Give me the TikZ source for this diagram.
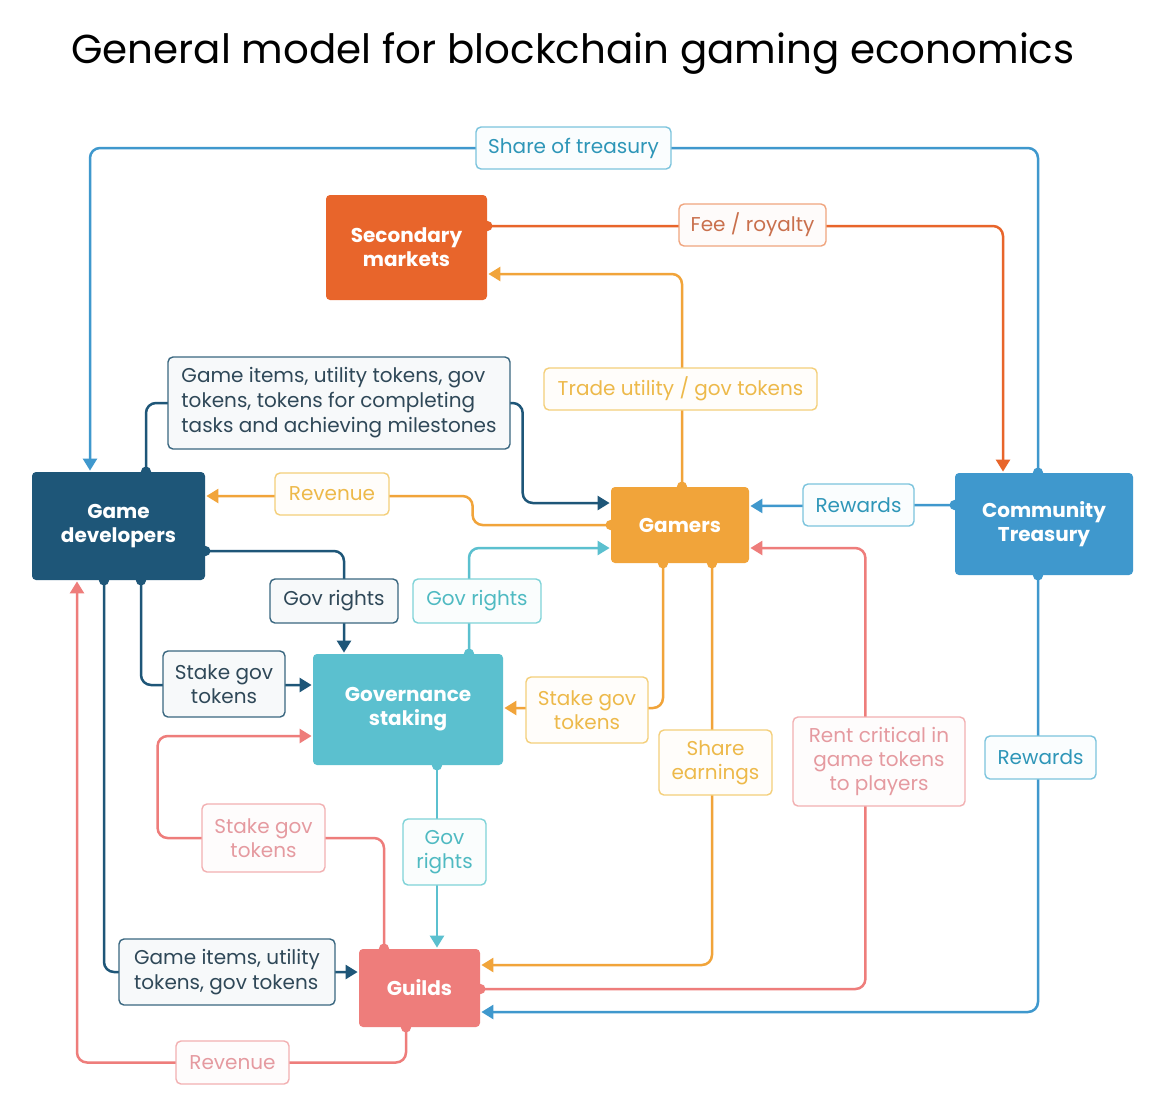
\documentclass[tikz,border=0pt]{standalone}
\usepackage{fontspec}
\setmainfont{Poppins}
\usetikzlibrary{arrows.meta,calc}
\pgfdeclarelayer{bg}\pgfdeclarelayer{lines}
\pgfsetlayers{bg,lines,main}
\definecolor{cDark}{HTML}{1E5678}
\definecolor{cOrange}{HTML}{F1A43A}
\definecolor{cBlue}{HTML}{3F98CD}
\definecolor{cTeal}{HTML}{5BC0CF}
\definecolor{cSalmon}{HTML}{EE7D7B}
\definecolor{cRed}{HTML}{E8652B}
\definecolor{tDark}{HTML}{2F4858}
\definecolor{bDark}{HTML}{3A6780}
\definecolor{tBlue}{HTML}{2E96B8}
\definecolor{bBlue}{HTML}{7CC4DD}
\definecolor{tTeal}{HTML}{4FBAC2}
\definecolor{bTeal}{HTML}{7FD3D8}
\definecolor{tYel}{HTML}{EDB94A}
\definecolor{bYel}{HTML}{F4CF7A}
\definecolor{tPink}{HTML}{E59AA0}
\definecolor{bPink}{HTML}{F2B0B2}
\definecolor{tFee}{HTML}{C9704D}
\definecolor{bFee}{HTML}{F0A57F}
\tikzset{
  box/.style={rectangle, rounded corners=2pt, text=white, align=center, inner sep=0pt,
    font=\bfseries\fontsize{10}{12}\selectfont},
  lab/.style n args={2}{rectangle, rounded corners=2.5pt, line width=0.7pt, draw=#1, text=#2,
    fill=#1!4!white, align=center, inner sep=0pt, font=\fontsize{10}{12.2}\selectfont},
  conn/.style={line width=1.25pt, rounded corners=5pt, shorten <=-2.5pt, shorten >=0.5pt,
    {Circle[length=5pt]}-{Triangle[length=6pt,width=7pt]}}
}
\begin{document}
\begin{tikzpicture}[x=0.5pt,y=-0.5pt]
\begin{pgfonlayer}{bg}
\fill[white] (0,0) rectangle (1173,1110);
\end{pgfonlayer}
\useasboundingbox (0,0) rectangle (1173,1110);
\node (title) at (573,54) {\fontsize{20.2}{24}\selectfont General model for blockchain gaming economics};
% main nodes
\node[box, fill=cRed, minimum width=80.5pt, minimum height=52.5pt] (sec) at (406.5,247.5) {Secondary\\markets};
\node[box, fill=cDark, minimum width=86.5pt, minimum height=54pt] (dev) at (118.5,526) {Game\\developers};
\node[box, fill=cOrange, minimum width=69pt, minimum height=38pt] (gam) at (680,525) {Gamers};
\node[box, fill=cBlue, minimum width=89pt, minimum height=51pt] (tre) at (1044,524) {Community\\Treasury};
\node[box, fill=cTeal, minimum width=95pt, minimum height=55.5pt] (gov) at (408,709.5) {Governance\\staking};
\node[box, fill=cSalmon, minimum width=60.5pt, minimum height=39pt] (gui) at (419.5,988) {Guilds};
% labels
\node[lab={bBlue}{tBlue}, minimum width=97.5pt, minimum height=21pt] (L1) at (573.5,148) {Share of treasury};
\node[lab={bFee}{tFee}, minimum width=73.5pt, minimum height=21pt] (L2) at (752.5,225) {Fee / royalty};
\node[lab={bDark}{tDark}, minimum width=171pt, minimum height=46pt, align=left, font=\fontsize{10}{12.5}\selectfont] (L3) at (339,403) {Game items, utility tokens, gov\\tokens, tokens for completing\\tasks and achieving milestones};
\node[lab={bYel}{tYel}, minimum width=136.5pt, minimum height=21pt] (L4) at (680.5,389) {Trade utility / gov tokens};
\node[lab={bYel}{tYel}, minimum width=57pt, minimum height=21pt] (L5) at (332,494) {Revenue};
\node[lab={bBlue}{tBlue}, minimum width=55.5pt, minimum height=21pt] (L6) at (858.5,505) {Rewards};
\node[lab={bDark}{tDark}, minimum width=64pt, minimum height=22pt] (L7) at (334,601) {Gov rights};
\node[lab={bTeal}{tTeal}, minimum width=64pt, minimum height=22pt] (L8) at (477,601) {Gov rights};
\node[lab={bDark}{tDark}, minimum width=61pt, minimum height=33pt] (L9) at (224,684) {Stake gov\\tokens};
\node[lab={bYel}{tYel}, minimum width=61pt, minimum height=33pt] (L10) at (587,710) {Stake gov\\tokens};
\node[lab={bYel}{tYel}, minimum width=56.5pt, minimum height=32.5pt] (L11) at (715.5,762.5) {Share\\earnings};
\node[lab={bPink}{tPink}, minimum width=86pt, minimum height=44.5pt] (L12) at (879,761.5) {Rent critical in\\game tokens\\to players};
\node[lab={bBlue}{tBlue}, minimum width=55.5pt, minimum height=21.5pt] (L13) at (1040.5,757.5) {Rewards};
\node[lab={bPink}{tPink}, minimum width=61.5pt, minimum height=34pt] (L14) at (263.5,838) {Stake gov\\tokens};
\node[lab={bTeal}{tTeal}, minimum width=41.5pt, minimum height=33pt] (L15) at (444.5,852) {Gov\\rights};
\node[lab={bDark}{tDark}, minimum width=108pt, minimum height=33pt, align=left] (L16) at (227,972) {Game items, utility\\tokens, gov tokens};
\node[lab={bPink}{tPink}, minimum width=56.5pt, minimum height=21.5pt] (L17) at (232.5,1062.5) {Revenue};
% connectors
\begin{pgfonlayer}{lines}
\draw[conn, cBlue] ($(tre.north)+(-6,0)$) |- (L1.center) -| ($(dev.north)+(-28.5,0)$);
\draw[conn, cRed] ($(sec.east)+(0,-21.5)$) -| ($(tre.north)+(-41,0)$);
\draw[conn, cOrange] ($(gam.north)+(2,0)$) |- ($(sec.east)+(0,26.5)$);
\draw[conn, cDark] ($(dev.north)+(27.5,0)$) |- (L3.center) -- ($(L3.east)+(12,0)$) |- ($(gam.west)+(0,-22)$);
\draw[conn, cOrange] (gam.west) -- ($(gam.west)+(-138,0)$) |- ($(dev.east)+(0,-30)$);
\draw[conn, cBlue] ($(tre.west)+(0,-19)$) -- ($(gam.east)+(0,-19)$);
\draw[conn, cDark] ($(dev.east)+(0,25)$) -| ($(gov.north)+(-64,0)$);
\draw[conn, cTeal] ($(gov.north)+(61,0)$) |- ($(gam.west)+(0,23)$);
\draw[conn, cDark] ($(dev.south)+(22.5,0)$) |- ($(gov.west)+(0,-24.5)$);
\draw[conn, cOrange] ($(gam.south)+(-17,0)$) |- ($(gov.east)+(0,-1.5)$);
\draw[conn, cOrange] ($(gam.south)+(32,0)$) |- ($(gui.east)+(0,-23)$);
\draw[conn, cSalmon] ($(gui.east)+(0,1)$) -| ($(gam.east)+(116,23)$) -- ($(gam.east)+(0,23)$);
\draw[conn, cBlue] ($(tre.south)+(-6,0)$) |- ($(gui.east)+(0,24)$);
\draw[conn, cTeal] ($(gov.south)+(29,0)$) -- ($(gui.north)+(17.5,0)$);
\draw[conn, cSalmon] ($(gui.north)+(-35.5,0)$) |- (L14.center) -| ($(gov.west)+(-155,26.5)$) -- ($(gov.west)+(0,26.5)$);
\draw[conn, cDark] ($(dev.south)+(-14.5,0)$) |- ($(gui.west)+(0,-16)$);
\draw[conn, cSalmon] ($(gui.south)+(-13.5,0)$) |- (L17.center) -| ($(dev.south)+(-41.5,0)$);
\end{pgfonlayer}
\end{tikzpicture}
\end{document}
